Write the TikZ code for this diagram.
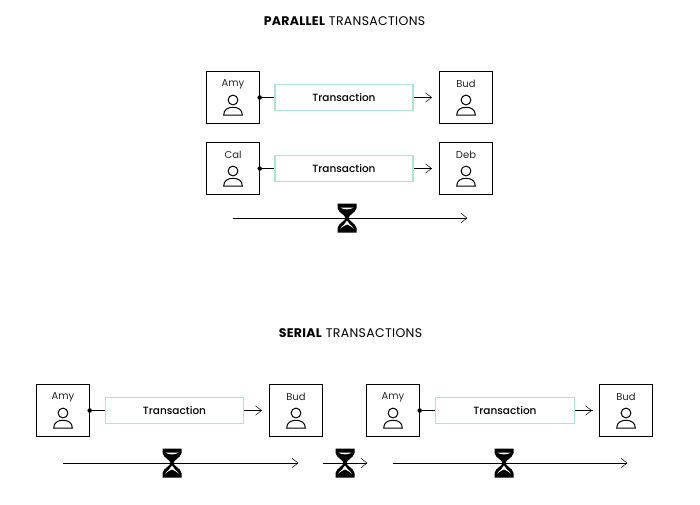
\documentclass[tikz,border=0pt]{standalone}
\usepackage{fontspec}
\setmainfont{Poppins}
\newfontfamily\medfont{Poppins Medium}
\newfontfamily\titlefont[LetterSpace=2.5]{Poppins}
\definecolor{mint}{HTML}{B0E4D2}
\begin{document}
\begin{tikzpicture}[x=1pt,y=-1pt,
  person/.style={draw=black,line width=0.9pt,fill=white,minimum width=52.5pt,minimum height=52.5pt,inner sep=0pt},
  nametext/.style={font=\fontsize{10}{12}\selectfont,text=black!85,inner sep=0pt},
  txbox/.style={draw=mint,line width=1.5pt,fill=white,minimum width=138pt,minimum height=26pt,inner sep=0pt,font=\medfont\fontsize{10.5}{12}\selectfont},
  title/.style={font=\titlefont\fontsize{12.5}{14}\selectfont,inner sep=0pt},
  link/.style={line width=0.7pt},
  open/.style={line width=0.5pt},
  tipline/.style={line width=0.5pt},
  dotmark/.style={circle,fill=black,minimum size=4.5pt,inner sep=0pt}]
\useasboundingbox (0,0) rectangle (700,504);
\fill[white] (0,0) rectangle (700,504);
\newcommand{\headicon}[2]{%
  \draw[line width=1pt] (#1,#2+2.5) circle (4.9);
  \draw[line width=1pt] (#1-9.3,#2+17.5) .. controls (#1-9.3,#2+12) and (#1-5,#2+9.8) .. (#1,#2+9.8) .. controls (#1+5,#2+9.8) and (#1+9.3,#2+12) .. (#1+9.3,#2+17.5) -- cycle;}
\newcommand{\arrowtip}[2]{%
  \draw[tipline] (#1-6,#2-4.7) -- (#1,#2) -- (#1-6,#2+4.7);}
\newcommand{\glass}[2]{%
  \begin{scope}[shift={(#1,#2)}]
   \fill[black] (-9.5,-14.5) -- (9.5,-14.5) -- (9.5,-10) .. controls (8.5,-5) and (1.5,-3) .. (1.5,0) .. controls (1.5,3) and (8.5,5) .. (9.5,10) -- (9.5,14.5) -- (-9.5,14.5) -- (-9.5,10) .. controls (-8.5,5) and (-1.5,3) .. (-1.5,0) .. controls (-1.5,-3) and (-8.5,-5) .. (-9.5,-10) -- cycle;
   \fill[white] (-6.5,-10.5) -- (6.5,-10.5) .. controls (4,-8) and (-4,-8) .. (-6.5,-10.5) -- cycle;
   \fill[white] (0,2.5) .. controls (-1,6) and (-4.5,7) .. (-6.8,10.5) .. controls (-4,9) and (-2,6.5) .. (0,6.5) .. controls (2,6.5) and (4,9) .. (6.8,10.5) .. controls (4.5,7) and (1,6) .. (0,2.5) -- cycle;
  \end{scope}}
\node[title] (t1) at (344.5,21.5) {\textbf{PARALLEL} TRANSACTIONS};
\node[title] (t2) at (350.5,333.5) {\textbf{SERIAL} TRANSACTIONS};
\newcommand{\row}[9]{%
  \node[person] (#1a) at (#3,#4) {};
  \node[person] (#1b) at (#5,#4) {};
  \node[nametext] (#1an) at (#3,#4-13.5) {#6};
  \node[nametext] (#1bn) at (#5,#4-13.5) {#7};
  \node[txbox,minimum width=#8pt] (#1t) at (#9,#4) {Transaction};
  \node[dotmark] (#1d) at (#1a.east) {};
  \draw[link] (#1d) -- (#1t.west);
  \coordinate (#1e) at ([xshift=18pt]#1t.east);
  \draw[open] (#1t.east) -- (#1e);
  \arrowtip{#5-26.5-8}{#4}
  \headicon{#3}{#4}
  \headicon{#5}{#4}}
\row{p}{}{233}{97.5}{466}{Amy}{Bud}{138}{344}
\row{q}{}{233}{168.5}{466}{Cal}{Deb}{138}{344}
\row{r}{}{63}{410.5}{296}{Amy}{Bud}{138}{174.5}
\row{s}{}{393}{410.5}{626}{Amy}{Bud}{139}{505}
\newcommand{\timeline}[4]{%
  \coordinate (#1s) at (#2,#4);
  \coordinate (#1e) at (#3,#4);
  \draw[open] (#1s) -- (#1e);
  \arrowtip{#3}{#4}}
\timeline{a}{233}{467}{218}
\glass{347}{218}
\timeline{b}{63}{298}{463}
\glass{172}{463}
\timeline{c}{323}{367}{463}
\glass{345}{463}
\timeline{d}{393}{627}{463}
\glass{504}{463}
\end{tikzpicture}
\end{document}
